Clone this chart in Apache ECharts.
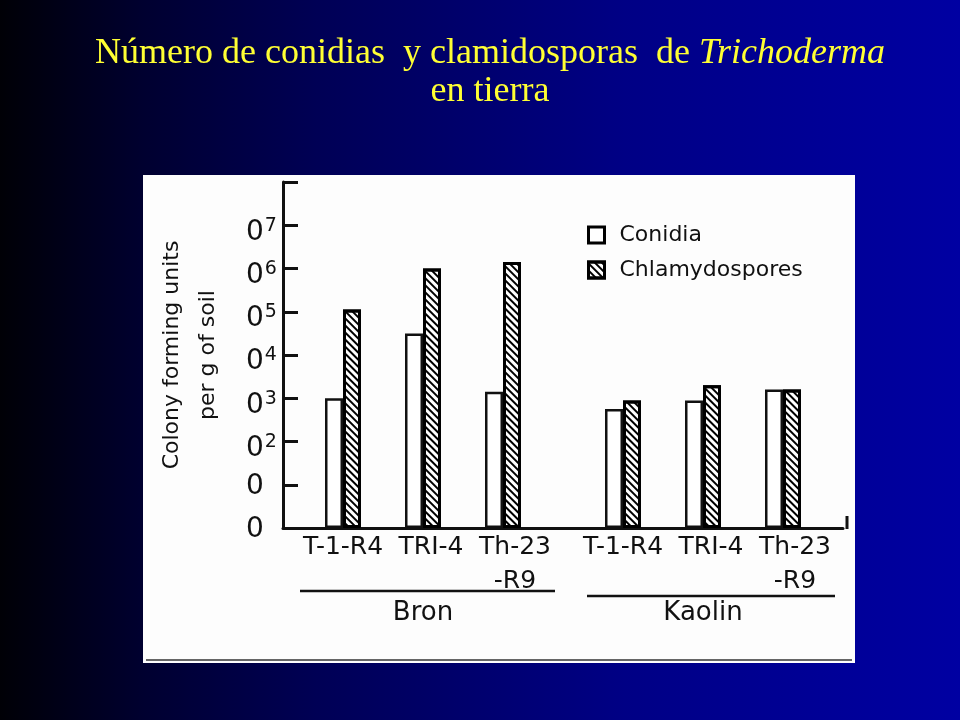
<!DOCTYPE html>
<html>
<head>
<meta charset="utf-8">
<script src="https://cdn.jsdelivr.net/npm/echarts@6/dist/echarts.min.js"></script>
<style>
  html, body { margin: 0; padding: 0; }
  body {
    width: 960px; height: 720px; overflow: hidden;
    background: linear-gradient(to right, #000006 0%, #000030 15%, #000055 33%, #000085 65%, #0000a2 100%);
  }
  #chart { width: 960px; height: 720px; }
</style>
</head>
<body>
<div id="chart"></div>
<script>
// ---- data ----
const categories = ['', 'T-1-R4', '', 'TRI-4', '', 'Th-23\n-R9', '', '', 'T-1-R4', '', 'TRI-4', '', 'Th-23\n-R9', ''];
const conidia        = [null, 3.0, null, 4.5, null, 3.15, null, null, 2.75, null, 2.95, null, 3.2, null];
const chlamydospores = [null, 5.05, null, 6.0, null, 6.15, null, null, 2.95, null, 3.3, null, 3.2, null];
const groups = ['Bron', 'Kaolin'];
const seriesNames = ['Conidia', 'Chlamydospores'];
const yTickBase = ['0', '0', '0', '0', '0', '0', '0', '0', ''];
const yTickExp  = ['', '', '2', '3', '4', '5', '6', '7', ''];
const yAxisTitle = 'Colony forming units\nper g of soil';

// ---- chart ----
const FONT = 'DejaVu Sans';
const chart = echarts.init(document.getElementById('chart'), null, { renderer: 'canvas' });

const hatch = {
  symbol: 'rect',
  symbolSize: 1,
  dashArrayX: [1, 0],
  dashArrayY: [2, 3],
  rotation: Math.PI / 4,
  color: '#000'
};

const xLabelStyle = { fontFamily: FONT, fontSize: 25, lineHeight: 34, color: '#111' };
const titleStyle = { fontFamily: 'Liberation Serif', fontSize: 36, lineHeight: 38, color: '#ffff33', fontWeight: 'normal' };

chart.setOption({
  backgroundColor: 'transparent',
  animation: false,
  title: {
    text: '{n|Número de conidias  y clamidosporas  de }{i|Trichoderma}\n{n|en tierra}',
    left: 'center',
    top: 30,
    textStyle: {
      fontWeight: 'normal',
      rich: {
        n: Object.assign({ padding: [0, 0, 0, 20] }, titleStyle),
        i: Object.assign({ fontStyle: 'italic' }, titleStyle)
      }
    }
  },
  graphic: [
    { type: 'rect', z: -10, silent: true, shape: { x: 143, y: 175, width: 712, height: 488 }, style: { fill: '#fdfdfd' } },
    { type: 'line', z: -9, silent: true, shape: { x1: 146, y1: 660, x2: 852, y2: 660 }, style: { stroke: '#666', lineWidth: 2 } },
    { type: 'line', silent: true, shape: { x1: 300, y1: 591, x2: 555, y2: 591 }, style: { stroke: '#111', lineWidth: 2.5 } },
    { type: 'line', silent: true, shape: { x1: 587, y1: 596, x2: 835, y2: 596 }, style: { stroke: '#111', lineWidth: 2.5 } },
    { type: 'line', silent: true, shape: { x1: 847, y1: 516, x2: 847, y2: 529 }, style: { stroke: '#111', lineWidth: 3 } }
  ],
  legend: {
    orient: 'vertical',
    left: 582,
    top: 219,
    itemWidth: 16,
    itemHeight: 16,
    itemGap: 13,
    textStyle: { fontFamily: FONT, fontSize: 22, color: '#111', padding: [0, 0, 0, 10] },
    data: [
      { name: seriesNames[0], icon: 'rect', itemStyle: { color: '#fff', borderColor: '#000', borderWidth: 3 } },
      { name: seriesNames[1], icon: 'rect', itemStyle: { color: '#fff', borderColor: '#000', borderWidth: 3, decal: hatch } }
    ]
  },
  grid: { left: 283, top: 182, width: 560, height: 346 },
  xAxis: [
    {
      type: 'category',
      data: categories,
      boundaryGap: true,
      axisLine: { show: true, lineStyle: { color: '#111', width: 3 } },
      axisTick: { show: false },
      splitLine: { show: false },
      axisLabel: {
        interval: 0,
        margin: 2,
        formatter: function (val) {
          if (!val) return '';
          const key = val.indexOf('TRI') === 0 ? 'm' : (val.indexOf('Th') === 0 ? 'r' : 'l');
          return val.split('\n').map(function (s) { return '{' + key + '|' + s + '}'; }).join('\n');
        },
        rich: {
          l: Object.assign({}, xLabelStyle),
          m: Object.assign({ padding: [0, 0, 0, 16] }, xLabelStyle),
          r: Object.assign({ padding: [0, 0, 0, 24] }, xLabelStyle)
        }
      }
    },
    {
      type: 'category',
      data: groups,
      position: 'bottom',
      offset: 66,
      axisLine: { show: false },
      axisTick: { show: false },
      splitLine: { show: false },
      axisLabel: { interval: 0, margin: 6, fontFamily: FONT, fontSize: 26, color: '#111' }
    }
  ],
  yAxis: {
    type: 'value',
    min: 0,
    max: 8,
    interval: 1,
    name: yAxisTitle,
    nameLocation: 'middle',
    nameRotate: 90,
    nameGap: 57,
    nameTextStyle: { fontFamily: FONT, fontSize: 22, lineHeight: 36, color: '#111', align: 'center' },
    axisLine: { show: true, lineStyle: { color: '#111', width: 3 } },
    axisTick: { show: true, inside: true, length: 15, lineStyle: { color: '#111', width: 3 } },
    splitLine: { show: false },
    axisLabel: {
      align: 'left',
      margin: 37,
      formatter: function (v) {
        const i = Math.round(v);
        const b = yTickBase[i], e = yTickExp[i];
        if (!b) return '';
        return e ? '{b|' + b + '}{s|' + e + '}' : '{p|' + b + '}';
      },
      rich: {
        b: { fontFamily: FONT, fontSize: 28, lineHeight: 28, padding: [14, 0, 0, 0], color: '#111' },
        s: { fontFamily: FONT, fontSize: 19, lineHeight: 19, padding: [12, 0, 11, 1], color: '#111' },
        p: { fontFamily: FONT, fontSize: 28, lineHeight: 28, padding: [4, 0, 0, 0], color: '#111' }
      }
    }
  },
  series: [
    {
      name: seriesNames[0],
      type: 'bar',
      data: conidia,
      barWidth: 18,
      barGap: '0%',
      itemStyle: { color: '#fff', borderColor: '#111', borderWidth: 2.5 }
    },
    {
      name: seriesNames[1],
      type: 'bar',
      data: chlamydospores,
      barWidth: 18,
      barGap: '0%',
      itemStyle: { color: '#fff', borderColor: '#000', borderWidth: 3, decal: hatch }
    }
  ]
});
</script>
</body>
</html>
